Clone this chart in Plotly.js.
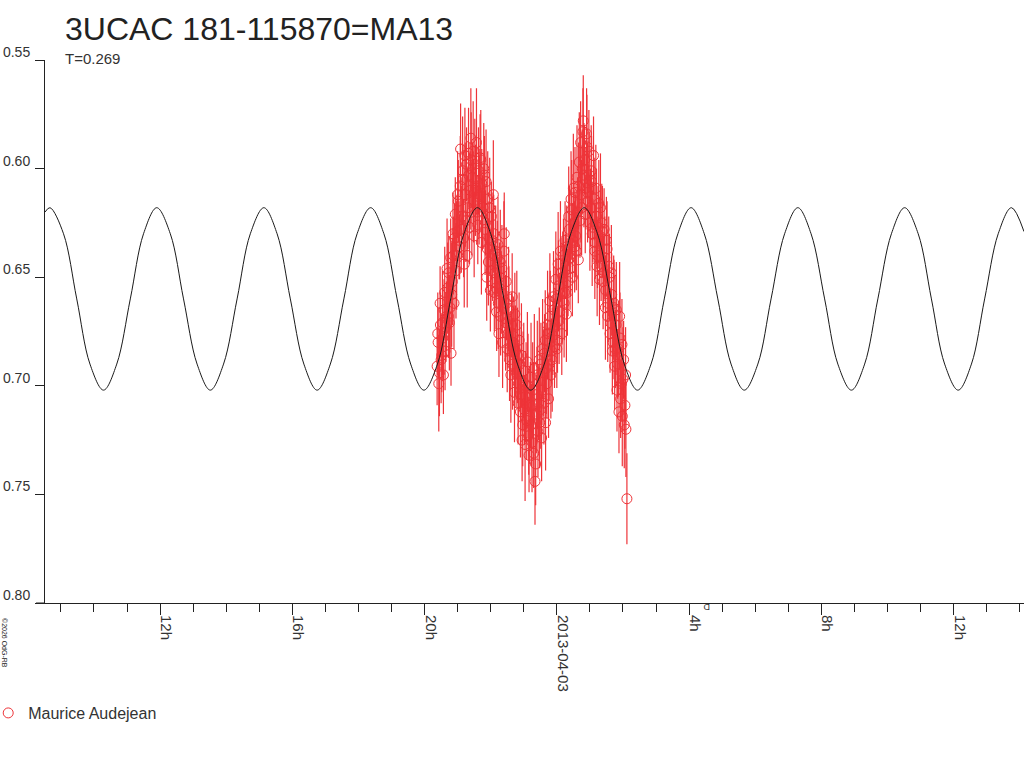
<!DOCTYPE html>
<html>
<head>
<meta charset="utf-8">
<script src="https://cdn.plot.ly/plotly-3.0.1.min.js"></script>
<style>html,body{margin:0;padding:0;background:#fff;}#chart{width:1024px;height:768px;}</style>
</head>
<body>
<div id="chart"></div>
<script>
// Observation times, hours since 2013-04-02 00:00 (first block)
var obsHoursA = [
20.38,20.41,20.45,20.48,20.52,20.55,20.59,20.62,20.66,20.70,
20.73,20.77,20.80,20.84,20.87,20.91,20.95,20.98,21.02,21.06,
21.09,21.13,21.16,21.20,21.23,21.27,21.31,21.34,21.38,21.41,
21.45,21.48,21.52,21.55,21.59,21.63,21.66,21.70,21.73,21.77,
21.81,21.84,21.88,21.91,21.95,21.99,22.02,22.06,22.09,22.13,
22.16,22.20,22.23,22.27,22.30,22.34,22.38,22.41,22.45,22.48,
22.52,22.55,22.59,22.63,22.66,22.70,22.73,22.77,22.81,22.84,
22.88,22.91,22.95,22.98,23.02,23.05,23.09,23.13,23.16,23.20,
23.23,23.27,23.30,23.34,23.38,23.41,23.45,23.48,23.52,23.55,
23.59,23.63,23.66,23.70,23.73,23.77,23.80,23.84,23.88,23.91,
23.95,23.98,24.02,24.05,24.09,24.13,24.16,24.20,24.23,24.27,
24.30,24.34,24.38,24.41,24.45,24.48,24.52,24.55,24.59,24.63,
24.66,24.70,24.73,24.77,24.80,24.84,24.88,24.91,24.95,24.98,
25.02,25.05,25.09,25.13,25.16,25.20,25.23,25.27,25.30,25.34,
25.38,25.41,25.45,25.48,25.52,25.55,25.59,25.63,25.66,25.70,
25.73,25.77,25.80,25.84,25.88,25.91,25.95,25.98,26.02,26.06,26.09,26.12
];
var obsMagA = [
0.691,0.680,0.694,0.672,0.686,0.678,0.665,0.684,0.668,0.655,
0.648,0.664,0.685,0.652,0.640,0.632,0.647,0.629,0.615,0.636,
0.591,0.622,0.605,0.644,0.612,0.598,0.618,0.603,0.610,0.596,
0.604,0.615,0.598,0.609,0.620,0.601,0.612,0.596,0.607,0.618,
0.603,0.625,0.650,0.614,0.632,0.656,0.622,0.640,0.630,0.648,
0.655,0.641,0.662,0.650,0.668,0.646,0.658,0.630,0.671,0.662,
0.676,0.665,0.684,0.672,0.690,0.680,0.667,0.694,0.686,0.699,
0.690,0.704,0.725,0.698,0.711,0.705,0.716,0.700,0.732,0.709,
0.718,0.702,0.731,0.744,0.713,0.695,0.708,0.717,0.690,0.702,
0.694,0.685,0.717,0.699,0.676,0.690,0.668,0.684,0.677,0.665,
0.672,0.660,0.679,0.654,0.666,0.648,0.661,0.640,0.657,0.645,
0.636,0.652,0.628,0.641,0.619,0.633,0.625,0.611,0.638,0.620,
0.608,0.624,0.612,0.600,0.578,0.596,0.609,0.590,0.615,0.603,
0.618,0.606,0.627,0.614,0.634,0.622,0.640,0.616,0.631,0.645,
0.629,0.648,0.641,0.656,0.637,0.662,0.650,0.671,0.658,0.680,
0.662,0.683,0.665,0.690,0.712,0.678,0.699,0.714,0.688,0.709,0.720,0.752
];
var obsErrA = [
0.018,0.016,0.020,0.015,0.017,0.019,0.014,0.018,0.016,0.021,
0.017,0.019,0.015,0.020,0.018,0.016,0.022,0.017,0.019,0.015,
0.021,0.018,0.016,0.020,0.024,0.017,0.019,0.015,0.018,0.022,
0.016,0.019,0.021,0.017,0.015,0.020,0.018,0.023,0.016,0.019,
0.018,0.015,0.020,0.022,0.017,0.019,0.016,0.021,0.018,0.015,
0.019,0.017,0.021,0.016,0.018,0.020,0.015,0.019,0.022,0.017,
0.016,0.020,0.018,0.015,0.021,0.017,0.019,0.016,0.022,0.018,
0.020,0.017,0.019,0.023,0.016,0.021,0.018,0.024,0.017,0.020,
0.019,0.022,0.016,0.020,0.018,0.025,0.017,0.021,0.019,0.016,
0.020,0.018,0.022,0.016,0.019,0.017,0.021,0.015,0.018,0.020,
0.017,0.019,0.015,0.021,0.018,0.016,0.020,0.017,0.022,0.015,
0.019,0.016,0.020,0.018,0.023,0.017,0.015,0.021,0.018,0.016,
0.020,0.017,0.022,0.018,0.021,0.016,0.019,0.024,0.017,0.020,
0.018,0.021,0.016,0.019,0.017,0.022,0.015,0.020,0.018,0.016,
0.021,0.017,0.019,0.016,0.022,0.018,0.020,0.015,0.019,0.017,
0.020,0.018,0.022,0.016,0.019,0.021,0.017,0.023,0.018,0.020,0.022,0.021
];
// Second block of observations (interleaved in time)
var obsHoursB = [
20.40,20.43,20.47,20.50,20.54,20.57,20.61,20.64,20.68,20.72,
20.75,20.79,20.82,20.86,20.89,20.93,20.97,21.00,21.04,21.08,
21.11,21.15,21.18,21.22,21.25,21.29,21.33,21.36,21.40,21.43,
21.47,21.50,21.54,21.57,21.61,21.65,21.68,21.72,21.75,21.79,
21.83,21.86,21.90,21.93,21.97,22.01,22.04,22.08,22.11,22.15,
22.18,22.22,22.25,22.29,22.32,22.36,22.40,22.43,22.47,22.50,
22.54,22.57,22.61,22.65,22.68,22.72,22.75,22.79,22.83,22.86,
22.90,22.93,22.97,23.00,23.04,23.07,23.11,23.15,23.18,23.22,
23.25,23.29,23.32,23.36,23.40,23.43,23.47,23.50,23.54,23.57,
23.61,23.65,23.68,23.72,23.75,23.79,23.82,23.86,23.90,23.93,
23.97,24.00,24.04,24.07,24.11,24.15,24.18,24.22,24.25,24.29,
24.32,24.36,24.40,24.43,24.47,24.50,24.54,24.57,24.61,24.65,
24.68,24.72,24.75,24.79,24.82,24.86,24.90,24.93,24.97,25.00,
25.04,25.07,25.11,25.15,25.18,25.22,25.25,25.29,25.32,25.36,
25.40,25.43,25.47,25.50,25.54,25.57,25.61,25.65,25.68,25.72,
25.75,25.79,25.82,25.86,25.90,25.93,25.97,26.00,26.04,26.08
];
var obsMagB = [
0.676,0.699,0.662,0.688,0.671,0.695,0.657,0.673,0.646,0.668,
0.671,0.641,0.658,0.630,0.662,0.621,0.640,0.612,0.633,0.608,
0.628,0.601,0.632,0.594,0.624,0.640,0.593,0.627,0.586,0.620,
0.592,0.631,0.610,0.588,0.626,0.613,0.595,0.634,0.620,0.600,
0.628,0.606,0.637,0.643,0.618,0.647,0.633,0.612,0.657,0.638,
0.666,0.635,0.676,0.643,0.657,0.680,0.638,0.669,0.652,0.683,
0.660,0.688,0.695,0.659,0.677,0.703,0.684,0.672,0.708,0.679,
0.712,0.686,0.718,0.693,0.727,0.700,0.689,0.723,0.714,0.696,
0.726,0.709,0.692,0.736,0.704,0.721,0.688,0.711,0.724,0.683,
0.708,0.679,0.692,0.672,0.706,0.661,0.695,0.688,0.659,0.682,
0.651,0.683,0.644,0.670,0.638,0.676,0.650,0.662,0.633,0.667,
0.657,0.622,0.646,0.614,0.650,0.609,0.636,0.631,0.604,0.642,
0.597,0.588,0.618,0.583,0.603,0.621,0.584,0.611,0.592,0.625,
0.601,0.630,0.594,0.638,0.609,0.645,0.627,0.651,0.618,0.625,
0.652,0.628,0.664,0.633,0.668,0.645,0.676,0.648,0.684,0.664,
0.691,0.672,0.702,0.683,0.668,0.706,0.681,0.697,0.718,0.695
];
var obsErrB = [
0.019,0.022,0.017,0.020,0.024,0.018,0.021,0.016,0.023,0.019,
0.022,0.018,0.024,0.019,0.021,0.017,0.025,0.020,0.018,0.023,
0.020,0.025,0.018,0.022,0.019,0.024,0.021,0.017,0.023,0.020,
0.023,0.019,0.021,0.025,0.018,0.022,0.020,0.024,0.017,0.021,
0.021,0.024,0.018,0.020,0.023,0.019,0.022,0.025,0.018,0.021,
0.018,0.022,0.020,0.024,0.019,0.021,0.023,0.018,0.025,0.020,
0.024,0.019,0.022,0.020,0.018,0.023,0.021,0.025,0.019,0.022,
0.021,0.024,0.019,0.022,0.026,0.020,0.023,0.018,0.022,0.025,
0.023,0.020,0.025,0.019,0.022,0.021,0.024,0.018,0.020,0.023,
0.019,0.023,0.021,0.025,0.018,0.022,0.020,0.024,0.021,0.019,
0.022,0.018,0.024,0.020,0.023,0.019,0.021,0.025,0.018,0.022,
0.020,0.023,0.019,0.022,0.018,0.025,0.021,0.019,0.024,0.020,
0.023,0.019,0.022,0.020,0.024,0.018,0.021,0.023,0.019,0.022,
0.021,0.024,0.018,0.022,0.020,0.023,0.019,0.021,0.025,0.018,
0.022,0.019,0.024,0.020,0.021,0.023,0.018,0.022,0.020,0.024,
0.020,0.023,0.019,0.022,0.025,0.018,0.021,0.024,0.020,0.022
];
// Fitted light curve (hours, magnitude)
var fitHours = [
8.52,8.67,9.08,9.48,9.88,10.29,10.69,11.10,11.50,
11.90,12.31,12.71,13.12,13.52,13.92,14.33,14.73,
15.14,15.54,15.94,16.35,16.75,17.15,17.56,17.96,
18.37,18.77,19.17,19.58,19.98,20.39,20.79,21.19,
21.60,22.00,22.40,22.81,23.21,23.62,24.02,24.42,
24.83,25.23,25.64,26.04,26.44,26.85,27.25,27.66,
28.06,28.46,28.87,29.27,29.67,30.08,30.48,30.89,
31.29,31.69,32.10,32.50,32.91,33.31,33.71,34.12,
34.52,34.93,35.33,35.73,36.14,36.54,36.94,37.35,
37.75,38.13
];
var fitMag = [
0.620,0.618,0.630,0.660,0.690,0.702,0.690,0.660,0.630,
0.618,0.630,0.660,0.690,0.702,0.690,0.660,0.630,
0.618,0.630,0.660,0.690,0.702,0.690,0.660,0.630,
0.618,0.630,0.660,0.690,0.702,0.690,0.660,0.630,
0.618,0.630,0.660,0.690,0.702,0.690,0.660,0.630,
0.618,0.630,0.660,0.690,0.702,0.690,0.660,0.630,
0.618,0.630,0.660,0.690,0.702,0.690,0.660,0.630,
0.618,0.630,0.660,0.690,0.702,0.690,0.660,0.630,
0.618,0.630,0.660,0.690,0.702,0.690,0.660,0.630,
0.618,0.629
];
var majorTickHours = [12,16,20,24,28,32,36];
var majorTickLabels = ["12h","16h","20h","2013-04-03","4h","8h","12h"];
var minorTickHours = [9,10,11,13,14,15,17,18,19,21,22,23,25,26,27,29,30,31,33,34,35,37,38];
var yTickVals = [0.55,0.60,0.65,0.70,0.75,0.80];
var yTickLabels = ["0.55","0.60","0.65","0.70","0.75","0.80"];

var RED = '#ee3338';
var FONT = 'Liberation Sans, Arial, sans-serif';

var traces = [
  {
    x: obsHoursA.concat(obsHoursB), y: obsMagA.concat(obsMagB), type: 'scatter', mode: 'markers',
    name: 'Maurice Audejean',
    marker: {symbol: 'circle-open', size: 10, color: RED, line: {width: 1, color: RED}},
    error_y: {type: 'data', array: obsErrA.concat(obsErrB), visible: true, color: RED, thickness: 1.2, width: 0},
    hoverinfo: 'skip'
  },
  {
    x: fitHours, y: fitMag, type: 'scatter', mode: 'lines',
    line: {color: '#1a1a1a', width: 1, shape: 'spline', smoothing: 1},
    showlegend: false, hoverinfo: 'skip'
  }
];

var layout = {
  width: 1024, height: 768,
  margin: {l: 45, r: 0, t: 60, b: 165, pad: 0, autoexpand: false},
  paper_bgcolor: '#fff', plot_bgcolor: '#fff',
  font: {family: FONT, color: '#333', size: 14},
  title: {
    text: '3UCAC 181-115870=MA13',
    font: {family: FONT, size: 32, color: '#222'},
    xref: 'container', yref: 'container', x: 65/1024, xanchor: 'left',
    y: 1 - 29/768, yanchor: 'middle', automargin: false
  },
  showlegend: true,
  legend: {
    orientation: 'h', x: -0.058, xanchor: 'left', y: -0.2026, yanchor: 'middle',
    font: {family: FONT, size: 16, color: '#333'}, bgcolor: 'rgba(0,0,0,0)', borderwidth: 0
  },
  xaxis: {
    range: [8.52, 38.13], showgrid: false, zeroline: false, automargin: false,
    showline: true, linecolor: '#222', linewidth: 1,
    tickmode: 'array', tickvals: majorTickHours, ticktext: majorTickLabels,
    ticks: 'outside', ticklen: 11, tickcolor: '#222', tickwidth: 1,
    tickangle: 90, tickfont: {family: FONT, size: 15, color: '#333'},
    ticklabelshift: 6, ticklabelstandoff: -3,
    minor: {tickmode: 'array', tickvals: minorTickHours, ticks: 'outside', ticklen: 8, tickcolor: '#222', tickwidth: 1, showgrid: false}
  },
  yaxis: {
    range: [0.80, 0.55], showgrid: false, zeroline: false, automargin: false,
    showline: true, linecolor: '#222', linewidth: 1,
    tickmode: 'array', tickvals: yTickVals, ticktext: yTickLabels,
    ticks: 'outside', ticklen: 9, tickcolor: '#222', tickwidth: 1,
    tickfont: {family: FONT, size: 14, color: '#333'},
    ticklabelshift: 8, ticklabelstandoff: 2
  },
  shapes: [
    {type: 'line', xref: 'paper', yref: 'paper', x0: -9/979, x1: 0, y0: 0, y1: 0, line: {color: '#222', width: 1}}
  ],
  annotations: [
    {text: 'T=0.269', xref: 'paper', yref: 'paper', x: 18/979, y: (603-58)/543, xanchor: 'left', yanchor: 'middle',
     showarrow: false, font: {family: FONT, size: 15, color: '#333'}},
    {text: '©2026 OdG-RB', xref: 'paper', yref: 'paper', x: -40/979, y: -40/543, xanchor: 'center', yanchor: 'middle',
     textangle: 90, showarrow: false, font: {family: FONT, size: 7, color: '#222'}},
    {text: 'D', xref: 'paper', yref: 'paper', x: 662/979, y: -4/543, xanchor: 'center', yanchor: 'middle',
     textangle: 180, showarrow: false, font: {family: FONT, size: 9, color: '#333'}}
  ]
};

Plotly.newPlot('chart', traces, layout, {displayModeBar: false, staticPlot: true});
</script>
</body>
</html>
